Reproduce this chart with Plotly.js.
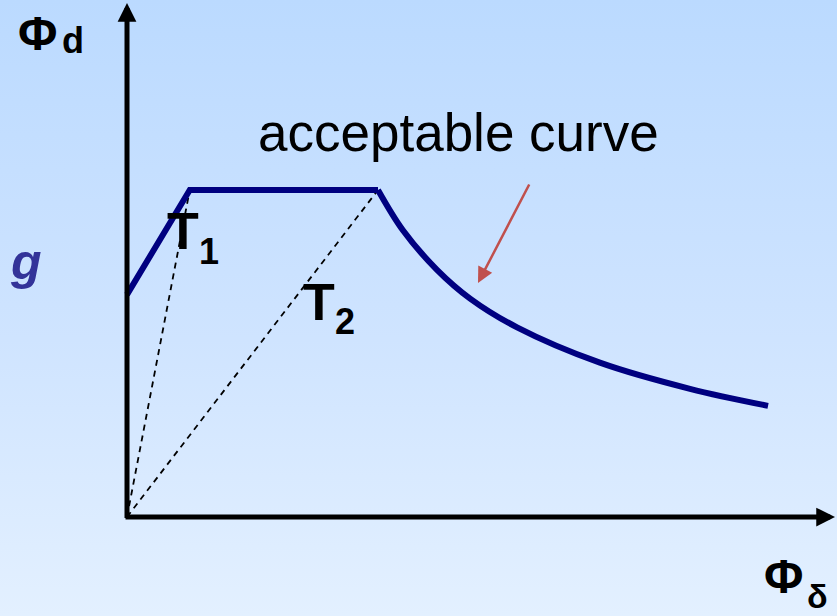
<!DOCTYPE html>
<html>
<head>
<meta charset="utf-8">
<script src="https://cdn.plot.ly/plotly-3.0.1.min.js"></script>
<style>
  html, body { margin: 0; padding: 0; overflow: hidden; }
  body { width: 837px; height: 616px; background: linear-gradient(to bottom, #bbdaff 0%, #cfe4ff 55%, #e3f0ff 100%); }
  #chart { width: 837px; height: 616px; }
</style>
</head>
<body>
<div id="chart"></div>
<script>
// Design-spectrum curve (period T vs spectral value)
const periods  = [0, 0.25, 1.00, 1.10, 1.235, 1.367, 1.554, 1.884, 2.243, 2.554];
const spectral = [1.70, 2.50, 2.50, 2.19, 1.89, 1.67, 1.45, 1.18, 0.98, 0.85];
// Corner periods
const cornerPeriods = [0.25, 1.00];
const plateau = 2.50;
// Labels
const labels = {
  yPhi: 'Φ', ySub: 'd', xPhi: 'Φ', xSub: 'δ', g: 'g',
  curve: 'acceptable curve', T: 'T', t1: '1', t2: '2'
};

const W = 837, H = 616;
const X0 = 127, Y0 = 517;          // origin pixel
const PX_X = 251, PX_Y = 130.8;    // pixels per unit
const xr = [-X0 / PX_X, (W - X0) / PX_X];
const yr = [-(H - Y0) / PX_Y, Y0 / PX_Y];
const px = (p) => p / W;            // paper x from pixel
const py = (p) => 1 - p / H;        // paper y from pixel

const iT2 = periods.indexOf(cornerPeriods[1]);
const navy = '#000080';

const traces = [];
cornerPeriods.forEach(T => {
  traces.push({ x: [0, T], y: [0, plateau], mode: 'lines',
    line: { color: '#000', width: 1.8, dash: '6px,5px' }, hoverinfo: 'skip' });
});
traces.push(
  { x: periods.slice(0, iT2 + 1), y: spectral.slice(0, iT2 + 1), mode: 'lines',
    line: { color: navy, width: 6 }, hoverinfo: 'skip' },
  { x: periods.slice(iT2), y: spectral.slice(iT2), mode: 'lines',
    line: { color: navy, width: 6, shape: 'spline', smoothing: 1.0 }, hoverinfo: 'skip' }
);

const font = 'Liberation Sans, Arial, sans-serif';
const txt = (text, xp, yp, size, opts = {}) => Object.assign({
  text, xref: 'paper', yref: 'paper', x: px(xp), y: py(yp), showarrow: false,
  xanchor: 'left', yanchor: 'middle', font: { family: font, size, color: '#000' }
}, opts);

const arrow = (x, y, ax, ay, color, width, size) => ({
  text: '', x, y, ax, ay, xref: 'x', yref: 'y', axref: 'x', ayref: 'y',
  showarrow: true, arrowhead: 2, arrowsize: size, arrowwidth: width, arrowcolor: color, standoff: 0
});

const annotations = [
  // axes with arrows
  arrow(0, 514 / PX_Y, 0, -2.5 / PX_Y, '#000', 5, 0.75),
  arrow((835 - X0) / PX_X, 0, -3 / PX_X, 0, '#000', 5, 0.75),
  // red pointer arrow
  arrow((478 - X0) / PX_X, (Y0 - 283) / PX_Y, (530 - X0) / PX_X, (Y0 - 183) / PX_Y, '#c0504d', 2.5, 1.25),
  // labels
  txt('<b>' + labels.yPhi + '</b>', 16, 33, 48),
  txt('<b>' + labels.ySub + '</b>', 60, 40, 36),
  txt('<b>' + labels.xPhi + '</b>', 762, 576, 48),
  txt('<b>' + labels.xSub + '</b>', 805, 596, 34),
  txt('<b><i>' + labels.g + '</i></b>', 8, 262, 50, { font: { family: font, size: 50, color: '#333399' } }),
  txt(labels.curve, 256, 132, 53),
  txt('<b>' + labels.T + '</b>', 165, 231, 52),
  txt('<b>' + labels.t1 + '</b>', 197, 251, 36),
  txt('<b>' + labels.T + '</b>', 301, 302, 52),
  txt('<b>' + labels.t2 + '</b>', 333, 321, 36)
];

const axis = (range) => ({ range, visible: false, showgrid: false, zeroline: false, fixedrange: true });

Plotly.newPlot('chart', traces, {
  width: W, height: H,
  margin: { l: 0, r: 0, t: 0, b: 0, pad: 0 },
  paper_bgcolor: 'rgba(0,0,0,0)', plot_bgcolor: 'rgba(0,0,0,0)',
  showlegend: false,
  xaxis: axis(xr), yaxis: axis(yr),
  annotations
}, { staticPlot: true, displayModeBar: false });
</script>
</body>
</html>
